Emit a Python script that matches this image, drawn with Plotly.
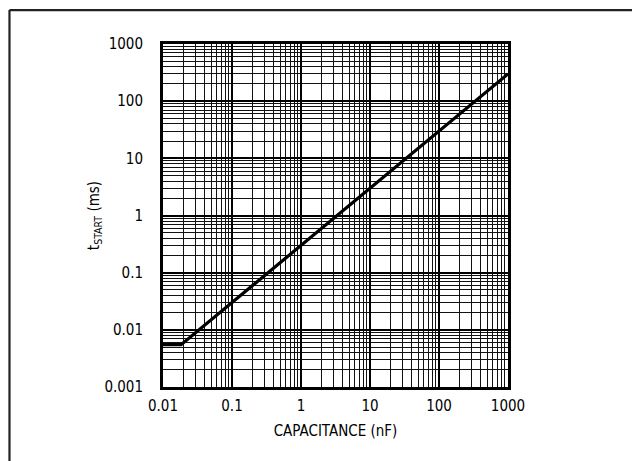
import plotly.graph_objects as go

# Data
capacitance_nF = [0.01, 0.0183, 0.1, 1, 10, 100, 1000]
tstart_ms = [0.0055, 0.0055, 0.03, 0.3, 3, 30, 300]

x_tickvals = [0.01, 0.1, 1, 10, 100, 1000]
x_ticktext = ["0.01", "0.1", "1", "10", "100", "1000"]
y_tickvals = [0.001, 0.01, 0.1, 1, 10, 100, 1000]
y_ticktext = ["0.001", "0.01", "0.1", "1", "10", "100", "1000"]

FONT = "DejaVu Sans Condensed, Liberation Sans Narrow, Arial Narrow, sans-serif"
FS = 15

fig = go.Figure()
fig.add_trace(go.Scatter(
    x=capacitance_nF, y=tstart_ms, mode="lines",
    line=dict(color="black", width=3.2),
    showlegend=False, hoverinfo="skip",
))

axis_common = dict(
    type="log",
    showline=True, linecolor="black", linewidth=3, mirror=True,
    showgrid=True, gridcolor="black", gridwidth=1.6,
    minor=dict(showgrid=True, gridcolor="#111111", gridwidth=1, dtick="D1", ticks=""),
    ticks="", zeroline=False,
    tickfont=dict(family=FONT, size=FS, color="black"),
    title_font=dict(family=FONT, size=FS, color="black"),
)

fig.update_xaxes(
    **axis_common,
    range=[-2, 3],
    tickvals=x_tickvals, ticktext=x_ticktext,
    ticklabelstandoff=3,
    title_text="CAPACITANCE (nF)", title_standoff=12,
)
fig.update_yaxes(
    **axis_common,
    range=[-3, 3],
    tickvals=y_tickvals, ticktext=y_ticktext,
    ticklabelstandoff=14,
    title_text="t<sub>START</sub> (ms)", title_standoff=2,
)

# outer frame (top and left edges of a panel border)
fig.add_shape(type="line", xref="paper", yref="paper",
              x0=-0.445, x1=1.5, y0=1.099, y1=1.099,
              line=dict(color="#222222", width=2.2), layer="above")
fig.add_shape(type="line", xref="paper", yref="paper",
              x0=-0.445, x1=-0.445, y0=1.099, y1=-0.5,
              line=dict(color="#222222", width=2.2), layer="above")

fig.update_layout(
    width=632, height=461,
    margin=dict(l=163, r=124, t=44, b=74),
    paper_bgcolor="white", plot_bgcolor="white",
    font=dict(family=FONT, color="black"),
)

fig.write_html("out.html", config={"displayModeBar": False},
               post_script="document.body.style.margin='0';")
